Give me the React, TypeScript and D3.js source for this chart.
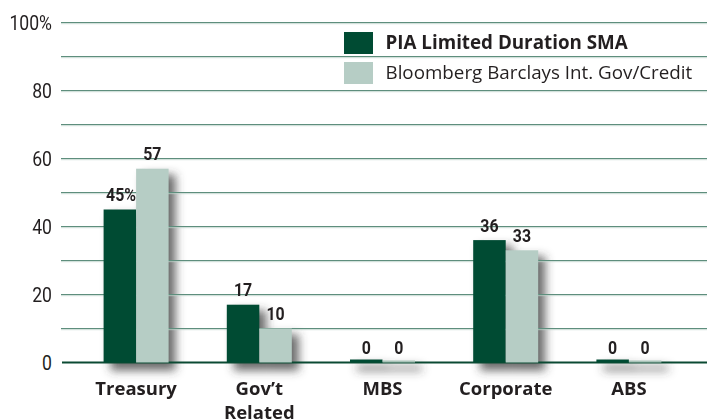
import React from "react";
import * as d3 from "d3";

const categories = ["Treasury", "Gov\u2019t Related", "MBS", "Corporate", "ABS"];
const categoryLines = [["Treasury"], ["Gov\u2019t", "Related"], ["MBS"], ["Corporate"], ["ABS"]];
const seriesNames = ["PIA Limited Duration SMA", "Bloomberg Barclays Int. Gov/Credit"];
const piaValues = [45, 17, 0, 36, 0];
const bbValues = [57, 10, 0, 33, 0];
const yTicks = [0, 20, 40, 60, 80, 100];
const gridValues = [10, 20, 30, 40, 50, 60, 70, 80, 90, 100];

const W = 707;
const H = 419;
const colors = ["#004b33", "#b6cdc5"];
const textColor = "#231f20";
const condensed = "Roboto, 'Noto Sans', sans-serif";
const sans = "'Open Sans', 'Noto Sans', sans-serif";

export default function App() {
  const y = d3.scaleLinear().domain([0, 100]).range([362.5, 22.5]);
  const x = d3.scaleBand().domain(categories).range([74.5, 690.5]).paddingInner(0).paddingOuter(0);
  const barW = 32.5;
  const xs = d3.scaleBand().domain(seriesNames).range([-barW, barW]);
  const series = [piaValues, bbValues];
  const minH = [3, 2];

  const bars: any[] = [];
  categories.forEach((c, i) => {
    const cx = (x(c) as number) + x.bandwidth() / 2;
    series.forEach((vals, s) => {
      const v = vals[i];
      const h = Math.max(y(0) - y(v), minH[s]);
      bars.push({ key: `${c}-${s}`, x: cx + (xs(seriesNames[s]) as number), w: xs.bandwidth(), top: y(0) - h, h, v, s, i });
    });
  });

  return (
    <svg width={W} height={H} style={{ position: "absolute", left: 0, top: 0, display: "block", background: "#fff" }}>
      <defs>
        <filter id="sh" x="-50%" y="-50%" width="200%" height="200%">
          <feGaussianBlur stdDeviation="5" />
        </filter>
      </defs>
      {/* shadows */}
      <g filter="url(#sh)">
        {bars.map((b) => (
          <rect key={"s" + b.key} x={b.x + 7} y={b.top + 6} width={b.w} height={b.h + 2} fill="#3a3a3a" opacity={0.75} />
        ))}
      </g>
      {/* gridlines */}
      <g>
        {gridValues.map((v) => (
          <g key={v}>
            <line x1={61} x2={W} y1={y(v)} y2={y(v)} stroke="#5e8e7d" strokeWidth={1.2} />
            <line x1={61} x2={W} y1={y(v) + 1.2} y2={y(v) + 1.2} stroke="#b9d0c7" strokeWidth={0.8} />
          </g>
        ))}
        <line x1={62} x2={W} y1={y(0)} y2={y(0)} stroke="#0b4a33" strokeWidth={2.2} />
      </g>
      {/* y tick labels */}
      <g fontFamily={condensed} fontSize={21} fill={textColor} textAnchor="end">
        {yTicks.map((t) => (
          <text key={t} transform={`translate(52, ${y(t)}) scale(0.84, 1)`} dy="0.36em">
            {t === 100 ? "100%" : String(t)}
          </text>
        ))}
      </g>
      {/* bars */}
      <g>
        {bars.map((b) => (
          <rect key={b.key} x={b.x} y={b.top} width={b.w} height={b.h} fill={b.v === 0 && b.s === 1 ? "#a9c4b9" : colors[b.s]} />
        ))}
      </g>
      {/* value labels */}
      <g fontFamily={condensed} fontSize={18.5} fontWeight="bold" fill={textColor}>
        {bars.map((b) => {
          const first = b.i === 0 && b.s === 0;
          const tx = first ? b.x + b.w : b.x + b.w / 2;
          return (
            <text key={"l" + b.key} transform={`translate(${tx}, ${y(b.v) - 8.5}) scale(0.86, 1)`} textAnchor={first ? "end" : "middle"}>
              {first ? `${b.v}%` : String(b.v)}
            </text>
          );
        })}
      </g>
      {/* category labels */}
      <g fontFamily={sans} fontSize={18.5} fontWeight="bold" fill={textColor} textAnchor="middle">
        {categories.map((c, i) => (
          <text key={c} x={(x(c) as number) + x.bandwidth() / 2} y={395}>
            {categoryLines[i].map((ln, j) => (
              <tspan key={j} x={(x(c) as number) + x.bandwidth() / 2} dy={j === 0 ? 0 : 23.5}>
                {ln}
              </tspan>
            ))}
          </text>
        ))}
      </g>
      {/* legend */}
      <g>
        {seriesNames.map((n, s) => (
          <g key={n} transform={`translate(344, ${32 + s * 30})`}>
            <rect x={0} y={0} width={29} height={22} fill={colors[s]} />
            <text x={41.5} y={17} fontFamily={sans} fontSize={18.8} fontWeight={s === 0 ? "bold" : "normal"} fill={textColor}>
              {n}
            </text>
          </g>
        ))}
      </g>
    </svg>
  );
}
